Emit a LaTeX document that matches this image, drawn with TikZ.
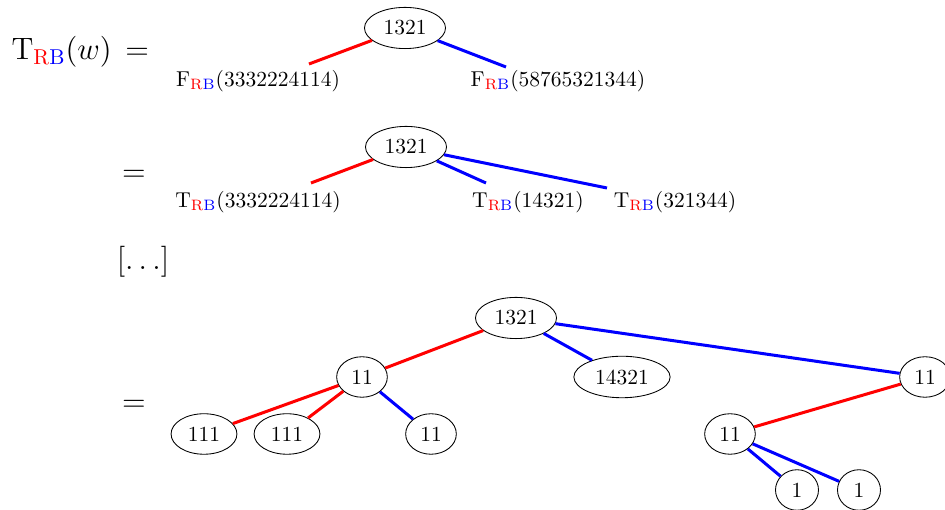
\documentclass[tikz,border=0pt]{standalone}
\usetikzlibrary{shapes.geometric}
\newcommand{\RBsub}{{\color{red}\mathrm{R}}{\color{blue}\mathrm{B}}}
\begin{document}
\begin{tikzpicture}[scale=0.327,
    nd/.style={draw, ellipse, minimum width=20pt},
    redge/.style={red, line width=1.4pt},
    bedge/.style={blue, line width=1.4pt}]
    \useasboundingbox (0,0) rectangle (47.25,25.5);

    % First line: T(w) = ...
    \node[anchor=west] (eqa) at (0.2,22.9) {\Large $\mathrm{T}_{\RBsub}(w)\,=$};
    \node[nd] (ra) at (20.25,24.1) {1321};
    \coordinate (ea1) at (15.45,22.3);
    \coordinate (ea2) at (25.3,22.15);
    \draw[redge] (ra) -- (ea1);
    \draw[bedge] (ra) -- (ea2);
    \node (la1) at (12.9,21.45) {$\mathrm{F}_{\RBsub}(3332224114)$};
    \node (la2) at (27.9,21.45) {$\mathrm{F}_{\RBsub}(58765321344)$};

    % Second line
    \node (eqb) at (6.7,16.7) {\Large $=$};
    \node[nd] (rb) at (20.3,18.15) {1321};
    \coordinate (eb1) at (15.55,16.35);
    \coordinate (eb2) at (24.3,16.35);
    \coordinate (eb3) at (30.35,16.1);
    \draw[redge] (rb) -- (eb1);
    \draw[bedge] (rb) -- (eb2);
    \draw[bedge] (rb) -- (eb3);
    \node (lb1) at (12.9,15.4) {$\mathrm{T}_{\RBsub}(3332224114)$};
    \node (lb2) at (26.4,15.4) {$\mathrm{T}_{\RBsub}(14321)$};
    \node (lb3) at (33.75,15.4) {$\mathrm{T}_{\RBsub}(321344)$};

    % Dots
    \node (dots) at (7.15,12.4) {\Large $[\dots]$};

    % Last line: the full tree
    \node (eqc) at (6.7,5.2) {\Large $=$};
    \node[nd] (a) at (25.8,9.6) {1321};
    \node[nd] (b) at (18.1,6.65) {11};
    \node[nd] (c) at (31.1,6.65) {14321};
    \node[nd] (d) at (46.25,6.65) {11};
    \node[nd] (e) at (10.2,3.8) {111};
    \node[nd] (f) at (14.35,3.8) {111};
    \node[nd] (g) at (21.55,3.8) {11};
    \node[nd] (h) at (36.5,3.8) {11};
    \node[nd] (i) at (39.85,1.0) {1};
    \node[nd] (j) at (42.95,1.0) {1};

    \draw[redge] (a) -- (b);
    \draw[bedge] (a) -- (c);
    \draw[bedge] (a) -- (d);
    \draw[redge] (b) -- (e);
    \draw[redge] (b) -- (f);
    \draw[bedge] (b) -- (g);
    \draw[redge] (d) -- (h);
    \draw[bedge] (h) -- (i);
    \draw[bedge] (h) -- (j);
\end{tikzpicture}
\end{document}
